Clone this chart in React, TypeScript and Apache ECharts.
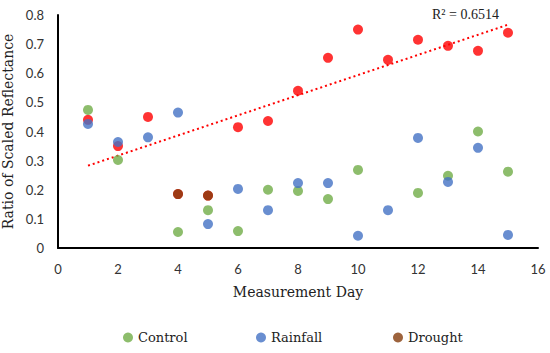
import React, { useEffect, useRef } from "react";
import * as echarts from "echarts";

const controlDays = [1, 2, 4, 5, 6, 7, 8, 9, 10, 12, 13, 14, 15];
const controlValues = [0.474, 0.302, 0.055, 0.13, 0.058, 0.2, 0.196, 0.168, 0.268, 0.189, 0.248, 0.4, 0.262];

const rainfallDays = [1, 2, 3, 4, 5, 6, 7, 8, 9, 10, 11, 12, 13, 14, 15];
const rainfallValues = [0.426, 0.364, 0.38, 0.465, 0.082, 0.203, 0.13, 0.223, 0.223, 0.042, 0.13, 0.378, 0.227, 0.344, 0.045];

const droughtDays = [4, 5];
const droughtValues = [0.185, 0.18];

// red series (with trendline); days 4 and 5 are hidden under the drought marks
const redDays = [1, 2, 3, 4, 5, 6, 7, 8, 9, 10, 11, 12, 13, 14, 15];
const redValues = [0.44, 0.35, 0.45, 0.185, 0.18, 0.415, 0.436, 0.54, 0.653, 0.75, 0.646, 0.715, 0.694, 0.677, 0.739];

const xTicks = [0, 2, 4, 6, 8, 10, 12, 14, 16];
const yTicks = [0, 0.1, 0.2, 0.3, 0.4, 0.5, 0.6, 0.7, 0.8];
const r2Label = "R² = 0.6514";

const zip = (xs: number[], ys: number[]) => xs.map((x, i) => [x, ys[i]]);

function regression(xs: number[], ys: number[]) {
  const n = xs.length;
  const mx = xs.reduce((a, b) => a + b, 0) / n;
  const my = ys.reduce((a, b) => a + b, 0) / n;
  let sxy = 0, sxx = 0;
  for (let i = 0; i < n; i++) {
    sxy += (xs[i] - mx) * (ys[i] - my);
    sxx += (xs[i] - mx) * (xs[i] - mx);
  }
  const slope = sxy / sxx;
  return { slope, intercept: my - slope * mx };
}

export default function App() {
  const ref = useRef<HTMLDivElement>(null);
  useEffect(() => {
    if (!ref.current) return;
    const chart = echarts.init(ref.current, undefined, { renderer: "svg" });
    const { slope, intercept } = regression(redDays, redValues);
    const x0 = redDays[0];
    const x1 = redDays[redDays.length - 1];
    const serif = "'DejaVu Serif', 'Liberation Serif', serif";
    const legendBase = {
      top: 331,
      padding: 0,
      icon: "circle",
      itemWidth: 10,
      itemHeight: 10,
      textStyle: { fontFamily: serif, fontSize: 13, color: "#222" },
    };
    chart.setOption({
      animation: false,
      backgroundColor: "#fff",
      grid: { left: 58, right: 12, top: 15, bottom: 105, outerBoundsMode: "none", containLabel: false },
      xAxis: {
        type: "value",
        min: xTicks[0],
        max: xTicks[xTicks.length - 1],
        interval: 2,
        name: "Measurement Day",
        nameLocation: "middle",
        nameGap: 37,
        nameTextStyle: { fontFamily: serif, fontSize: 14, color: "#222" },
        axisLine: { lineStyle: { color: "#000", width: 2 } },
        axisTick: { show: false },
        splitLine: { show: false },
        axisLabel: { fontFamily: "Lato", fontSize: 13, color: "#333", margin: 14 },
      },
      yAxis: {
        type: "value",
        min: yTicks[0],
        max: yTicks[yTicks.length - 1],
        interval: 0.1,
        name: "Ratio of Scaled Reflectance",
        nameLocation: "middle",
        nameGap: 42,
        nameTextStyle: { fontFamily: serif, fontSize: 14, color: "#222" },
        axisLine: { show: true, lineStyle: { color: "#000", width: 2 } },
        axisTick: { show: false },
        splitLine: { show: false },
        axisLabel: { fontFamily: "Lato", fontSize: 13, color: "#333", margin: 14 },
      },
      legend: [
        { ...legendBase, left: 123, data: ["Control"] },
        { ...legendBase, left: 256, data: ["Rainfall"] },
        { ...legendBase, left: 393, data: ["Drought"] },
      ],
      series: [
        {
          name: "Trend",
          type: "line",
          data: [
            [x0, intercept + slope * x0],
            [x1, intercept + slope * x1],
          ],
          symbol: "none",
          lineStyle: { color: "#ff0000", width: 2, type: [2, 3] },
          z: 1,
        },
        {
          name: "Series4",
          type: "scatter",
          data: zip(redDays, redValues),
          symbolSize: 10,
          itemStyle: { color: "#FF0000" },
        },
        {
          name: "Control",
          type: "scatter",
          data: zip(controlDays, controlValues),
          symbolSize: 10,
          itemStyle: { color: "#70AD47" },
        },
        {
          name: "Rainfall",
          type: "scatter",
          data: zip(rainfallDays, rainfallValues),
          symbolSize: 10,
          itemStyle: { color: "#4472C4" },
        },
        {
          name: "Drought",
          type: "scatter",
          data: zip(droughtDays, droughtValues),
          symbolSize: 10,
          itemStyle: { color: "#843C0C" },
        },
      ],
      graphic: [
        {
          type: "text",
          left: 432,
          top: 7,
          style: { text: r2Label, fontFamily: "'Liberation Serif', serif", fontSize: 14, fill: "#222" },
        },
      ],
    });
    return () => chart.dispose();
  }, []);
  return <div ref={ref} style={{ width: 550, height: 353, position: "absolute", left: 0, top: 0 }} />;
}
